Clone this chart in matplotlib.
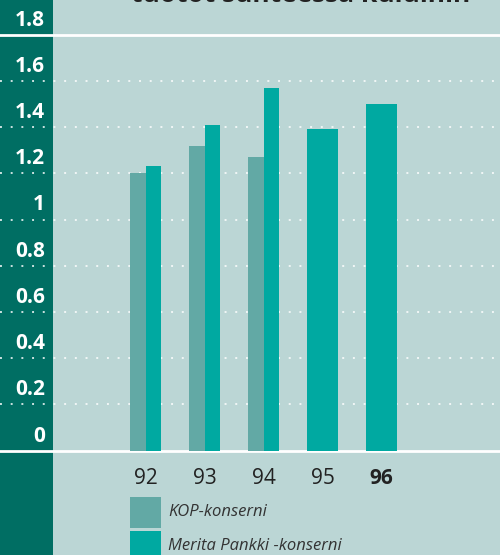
import matplotlib
matplotlib.use('Agg')
import matplotlib.pyplot as plt
from matplotlib.patches import Rectangle
import numpy as np

# data
years = ['92', '93', '94', '95', '96']
kop = [1.20, 1.32, 1.27, None, None]      # KOP-konserni
merita = [1.23, 1.41, 1.57, 1.39, 1.50]   # Merita Pankki -konserni
yticks = [0, 0.2, 0.4, 0.6, 0.8, 1, 1.2, 1.4, 1.6, 1.8]
ytick_labels = ['0', '0.2', '0.4', '0.6', '0.8', '1', '1.2', '1.4', '1.6', '1.8']
legend_labels = ['KOP-konserni', 'Merita Pankki -konserni']
title = 'tuotot suhteessa kuluihin'

bg = '#bbd6d5'
dark = '#006e63'
c_kop = '#62a9a5'
c_mer = '#00a9a1'

plt.rcParams['font.family'] = ['Open Sans', 'DejaVu Sans']

W, H = 500, 555
fig = plt.figure(figsize=(W / 100, H / 100), dpi=100)
fig.patch.set_facecolor(bg)
ax = fig.add_axes([0, 0, 1, 1])
ax.set_facecolor(bg)
for s in ax.spines.values():
    s.set_visible(False)
ax.set_xticks([])
ax.set_yticks([])

# pixel based scales
px_per_unit = 231.0
zero_px = 450.5
step = 59.0
first_px = 145.5
ax.set_ylim(-(H - zero_px) / px_per_unit, zero_px / px_per_unit)
ax.set_xlim(-first_px / step, (W - first_px) / step)

# dark strip on the left
ax.add_patch(Rectangle((0, 0), 53 / W, 1, transform=ax.transAxes,
                       facecolor=dark, edgecolor='none', zorder=0))

# grid lines
for v in yticks:
    if v in (0, 1.8):
        ax.axhline(v, color='white', lw=2, zorder=1)
    else:
        ax.axhline(v, color='white', lw=1.4, alpha=0.8,
                   linestyle=(0, (1, 4.5)), zorder=1)

# y labels above their lines
lab_trans = ax.get_yaxis_transform()
for v, lab in zip(yticks, ytick_labels):
    ax.text(45 / W, v + 4 / px_per_unit, lab, transform=lab_trans,
            ha='right', va='bottom', color='white', fontsize=15,
            fontweight='bold', zorder=3)

# bars
x = np.arange(len(years))
full = 31 / step
half = full / 2
for i in range(len(years)):
    if kop[i] is not None:
        ax.bar(x[i] - half / 2, kop[i], width=half, color=c_kop, zorder=2)
        ax.bar(x[i] + half / 2, merita[i], width=half, color=c_mer, zorder=2)
    else:
        ax.bar(x[i], merita[i], width=full, color=c_mer, zorder=2)

# x labels
for i, yr in enumerate(years):
    ax.text(x[i], -(478 - zero_px) / px_per_unit, yr, ha='center', va='center',
            fontsize=15, color='#222222',
            fontweight='bold' if yr == '96' else 'normal')

# legend
sq = 31 / px_per_unit
leg_tops = [497, 531]
for k, (lab, col) in enumerate(zip(legend_labels, [c_kop, c_mer])):
    top = -(leg_tops[k] - zero_px) / px_per_unit
    ax.add_patch(Rectangle((x[0] - half, top - sq), full, sq,
                           facecolor=col, edgecolor='none', zorder=2))
    ax.text((168 - first_px) / step, top - sq / 2, lab, ha='left', va='center',
            fontsize=12, style='italic', color='#333333')

# title, mostly cut off at the top
fig.text(301 / W, 1 - 1.5 / H, title, ha='center', va='baseline',
         fontsize=19, fontweight='bold', color='#222222')

fig.savefig('out.png', dpi=100, facecolor=bg)
